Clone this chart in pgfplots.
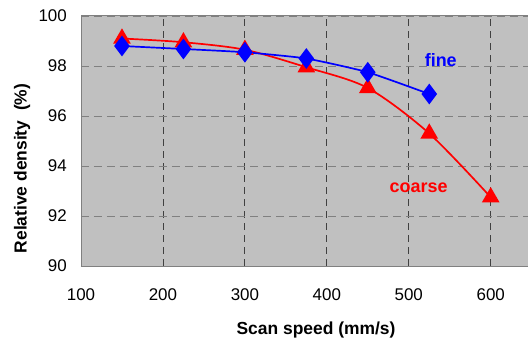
\documentclass[border=0pt]{standalone}
\usepackage{fontspec}
\setmainfont{Liberation Sans}
\usepackage{pgfplots}
\pgfplotsset{compat=1.18}
\definecolor{bg}{RGB}{192,192,192}
\definecolor{fineblue}{RGB}{0,0,255}
\definecolor{coarsered}{RGB}{255,0,0}
\begin{document}
\begin{tikzpicture}[x=1bp,y=1bp]
\begin{axis}[
  at={(0,0)}, anchor=south west,
  width=452bp, height=250bp, scale only axis,
  xmin=100, xmax=651.6, ymin=90, ymax=100,
  xtick={100,200,300,400,500,600},
  ytick={90,92,94,96,98,100},
  axis background/.style={fill=bg},
  axis line style={draw=black!50, line width=1pt},
  major tick length=0pt,
  xmajorgrids, ymajorgrids,
  x grid style={draw=black!75, dash pattern=on 7bp off 5bp, line width=0.8pt},
  y grid style={draw=black!50, dash pattern=on 8bp off 5bp, line width=0.8pt},
  /pgf/number format/assume math mode=true,
  tick label style={font=\fontsize{17}{17}\selectfont, inner sep=0pt},
  xticklabel style={anchor=north, yshift=-22bp},
  yticklabel style={anchor=east, xshift=-14bp},
  xlabel={\textbf{Scan speed (mm/s)}},
  ylabel={\textbf{Relative density\ \ (\%)}},
  label style={font=\fontsize{17.5}{18}\selectfont, inner sep=0pt},
  xlabel style={at={(rel axis cs:0.52,0)}, anchor=north, yshift=-56bp},
  ylabel style={at={(axis description cs:-0.1305,0.39)}, anchor=center},
  clip=false,
]
\addplot[color=coarsered, line width=1.7pt, smooth, tension=0.5,
  mark=triangle*, mark size=8.5bp, mark options={fill=coarsered, draw=coarsered}]
  coordinates {(150,99.1) (225,98.95) (300,98.65) (375,97.95) (450,97.12) (525,95.3) (600,92.75)};
\addplot[color=fineblue, line width=1.7pt, smooth, tension=0.3,
  mark=diamond*, mark size=9bp, mark options={fill=fineblue, draw=fineblue}]
  coordinates {(150,98.8) (225,98.68) (300,98.55) (375,98.3) (450,97.75) (525,96.88)};
\node[font=\fontsize{18}{18}\selectfont\bfseries, text=fineblue, inner sep=0pt] at (axis cs:539,98.24) {fine};
\node[font=\fontsize{18}{18}\selectfont\bfseries, text=coarsered, inner sep=0pt] at (axis cs:512,93.12) {coarse};
\end{axis}
\pgfresetboundingbox
\path (-81bp,-76bp) rectangle (447bp,266bp);
\end{tikzpicture}
\end{document}
